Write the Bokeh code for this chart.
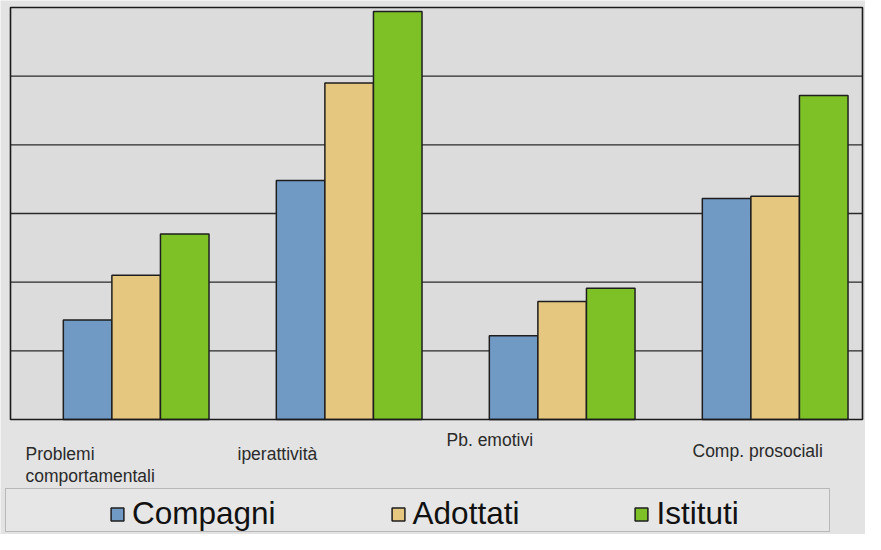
from bokeh.plotting import figure
from bokeh.models import Range1d, Legend, LegendItem, ColumnDataSource, Label
from bokeh.embed import file_html
from bokeh.resources import INLINE

categories = ["Problemi\ncomportamentali", "iperattività", "Pb. emotivi", "Comp. prosociali"]
series = ["Compagni", "Adottati", "Istituti"]
compagni = [1.45, 3.48, 1.22, 3.22]
adottati = [2.1, 4.9, 1.72, 3.25]
istituti = [2.7, 5.94, 1.91, 4.72]
grid_values = [1, 2, 3, 4, 5]
colors = ["#7099c4", "#e5c77f", "#7dc126"]

W, H = 865, 534
BOX_L_PX, BOX_R_PX, BOX_T_PX, BOX_B_PX = 10, 862, 7, 419   # chart box in canvas pixels
X0, X1 = -0.09, 3.91      # category axis span inside the chart box
Y0, Y1 = 0, 6             # value span inside the chart box

xs_per_px = (X1 - X0) / (BOX_R_PX - BOX_L_PX)
ys_per_px = (Y1 - Y0) / (BOX_B_PX - BOX_T_PX)
xr = Range1d(X0 - BOX_L_PX * xs_per_px, X1 + (W - BOX_R_PX) * xs_per_px)
yr = Range1d(Y0 - (H - BOX_B_PX) * ys_per_px, Y1 + BOX_T_PX * ys_per_px)

p = figure(width=W, height=H, output_backend="svg", toolbar_location=None,
           x_range=xr, y_range=yr, x_axis_location=None, y_axis_location=None,
           min_border=0)
p.background_fill_color = "#e3e3e3"
p.border_fill_color = "#e3e3e3"
p.outline_line_color = None
p.grid.visible = False

# chart area background
p.quad(left=[X0], right=[X1], bottom=[Y0], top=[Y1], fill_color="#dcdcdc", line_color=None)
# horizontal gridlines
p.segment(x0=[X0] * len(grid_values), x1=[X1] * len(grid_values),
          y0=grid_values, y1=grid_values, line_color="#2a2a2a", line_width=1.3)

bw = 0.228
values = [compagni, adottati, istituti]
renderers = []
for k, (name, vals, col) in enumerate(zip(series, values, colors)):
    xs = [i + 0.5 + (k - 1) * bw for i in range(len(categories))]
    src = ColumnDataSource(dict(x=xs, top=vals))
    r = p.vbar(x="x", top="top", width=bw, bottom=Y0, source=src,
               fill_color=col, line_color="#1e1e1e", line_width=1.5)
    renderers.append((name, r))

# chart area border
p.quad(left=[X0], right=[X1], bottom=[Y0], top=[Y1], fill_alpha=0,
       line_color="#1a1a1a", line_width=1.6)

# category labels (screen positions)
lab_x = [25, 237, 446, 692]
lab_top = [443, 443, 429, 440]
for cat, lx, lt in zip(categories, lab_x, lab_top):
    p.add_layout(Label(x=lx, y=H - lt, x_units="screen", y_units="screen",
                       text=cat, text_align="left", text_baseline="top",
                       text_font="Liberation Sans", text_font_size="17.5px",
                       text_color="#2a2a2a", text_line_height=1.1))

# legend frame (big box)
dummy = p.vbar(x=[], top=[], width=0.1, fill_alpha=0, line_alpha=0)
box = Legend(items=[LegendItem(label=" ", renderers=[dummy])],
             location=(5, 2), orientation="horizontal",
             glyph_width=1, glyph_height=30, label_height=30, label_standoff=0,
             label_width=810, padding=6, margin=0,
             border_line_color="#8a8a8a", border_line_width=1.3,
             background_fill_color="#e6e6e6", background_fill_alpha=1.0,
             label_text_font="Liberation Sans", label_text_font_size="31px")
p.add_layout(box)

legend = Legend(items=[LegendItem(label=n, renderers=[r]) for n, r in renderers],
                location=(109, 2), orientation="horizontal",
                label_text_font="Liberation Sans", label_text_font_size="31.5px",
                label_text_color="#111111",
                glyph_width=16, glyph_height=16, label_height=30, label_standoff=7,
                spacing=114, padding=6, margin=0,
                border_line_color=None, background_fill_alpha=0)
p.add_layout(legend)

open("out.html", "w").write(file_html(p, INLINE))
